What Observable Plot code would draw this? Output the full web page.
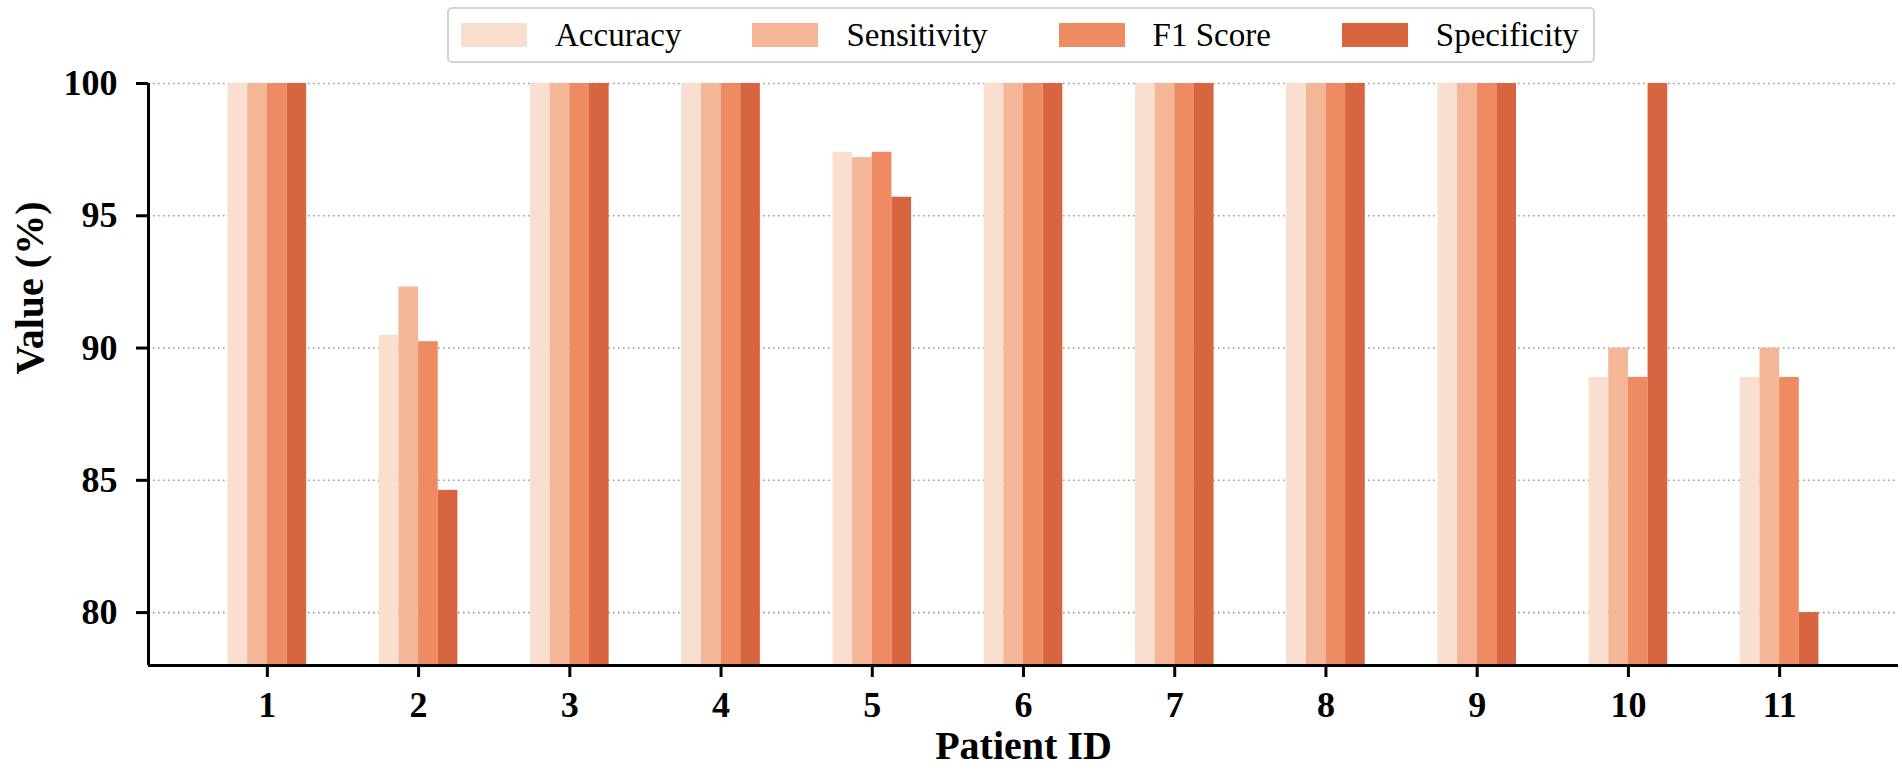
<!DOCTYPE html>
<html>
<head>
<meta charset="utf-8">
<script src="https://cdn.jsdelivr.net/npm/d3@7"></script>
<script src="https://cdn.jsdelivr.net/npm/@observablehq/plot@0.6"></script>
<style>
  html, body { margin: 0; padding: 0; background: #fff; }
  #wrap { position: relative; width: 1902px; height: 779px; font-family: "Liberation Serif", "Times New Roman", serif; }
  #chart svg, #chart svg text { font-family: "Liberation Serif", "Times New Roman", serif; }
  #legend {
    position: absolute; left: 447px; top: 7px; width: 1148px; height: 56px; box-sizing: border-box;
    border: 2px solid #d3d3d3; border-radius: 5px; background: #fff;
    display: flex; align-items: center; padding-left: 12px;
    font-family: "Liberation Serif", "Times New Roman", serif; font-size: 33px; color: #000;
  }
  .item { display: flex; align-items: center; margin-right: 71px; }
  .item:last-child { margin-right: 0; }
  .sw { width: 66px; height: 24px; margin-right: 28px; }
</style>
</head>
<body>
<div id="wrap">
  <div id="chart"></div>
  <div id="legend"></div>
</div>
<script>
const patients = [1, 2, 3, 4, 5, 6, 7, 8, 9, 10, 11];
const metrics = ["Accuracy", "Sensitivity", "F1 Score", "Specificity"];
const colors = ["#f9dfcf", "#f4b696", "#ef8b63", "#d7653f"];
const accuracy    = [100, 90.48, 100, 100, 97.4, 100, 100, 100, 100, 88.89, 88.89];
const sensitivity = [100, 92.31, 100, 100, 97.2, 100, 100, 100, 100, 90.0, 90.0];
const f1score     = [100, 90.24, 100, 100, 97.4, 100, 100, 100, 100, 88.89, 88.89];
const specificity = [100, 84.62, 100, 100, 95.7, 100, 100, 100, 100, 100, 80.0];
const yTicks = [80, 85, 90, 95, 100];
const yDomain = [78, 100];
const xDomain = [0.214, 11.786];
const barWidth = 0.13;

const series = [accuracy, sensitivity, f1score, specificity];
const rows = [];
metrics.forEach((m, k) => {
  patients.forEach((p, i) => rows.push({patient: p, metric: m, k, value: series[k][i]}));
});

const font = "'Liberation Serif', 'Times New Roman', serif";

const plot = Plot.plot({
  width: 1902,
  height: 779,
  marginLeft: 148,
  marginRight: 4,
  marginTop: 83,
  marginBottom: 114,
  style: "font-family: 'Liberation Serif', 'Times New Roman', serif; background: transparent; color: #000;",
  x: {type: "linear", domain: xDomain},
  y: {domain: yDomain},
  color: {domain: metrics, range: colors},
  marks: [
    Plot.ruleY(yTicks, {stroke: "#9a9a9a", strokeWidth: 1.6, strokeDasharray: "1.6,3.4"}),
    Plot.rectY(rows, {
      x1: d => d.patient + (d.k - 2) * barWidth,
      x2: d => d.patient + (d.k - 1) * barWidth,
      y1: yDomain[0],
      y2: "value",
      fill: "metric",
      inset: 0
    }),
    Plot.ruleX([xDomain[0]], {stroke: "#000", strokeWidth: 3}),
    Plot.ruleY([yDomain[0]], {stroke: "#000", strokeWidth: 3}),
    Plot.axisY({ticks: yTicks, tickSize: 12, tickPadding: 19, strokeWidth: 3, fontSize: 36, fontWeight: "bold", fontFamily: font, label: null}),
    Plot.axisX({ticks: patients, tickFormat: d => String(d), tickSize: 12, tickPadding: 14, strokeWidth: 3, fontSize: 36, fontWeight: "bold", fontFamily: font, label: null}),
    Plot.text(["Value (%)"], {frameAnchor: "left", dx: -118, rotate: -90, fontSize: 40, fontWeight: "bold", fontFamily: font, fill: "#000"}),
    Plot.text(["Patient ID"], {frameAnchor: "bottom", dy: 93, fontSize: 40, fontWeight: "bold", fontFamily: font, fill: "#000"})
  ]
});
document.getElementById("chart").appendChild(plot);

const legend = document.getElementById("legend");
metrics.forEach((m, k) => {
  const item = document.createElement("div");
  item.className = "item";
  const sw = document.createElement("div");
  sw.className = "sw";
  sw.style.background = colors[k];
  const t = document.createElement("span");
  t.textContent = m;
  item.appendChild(sw);
  item.appendChild(t);
  legend.appendChild(item);
});
</script>
</body>
</html>
